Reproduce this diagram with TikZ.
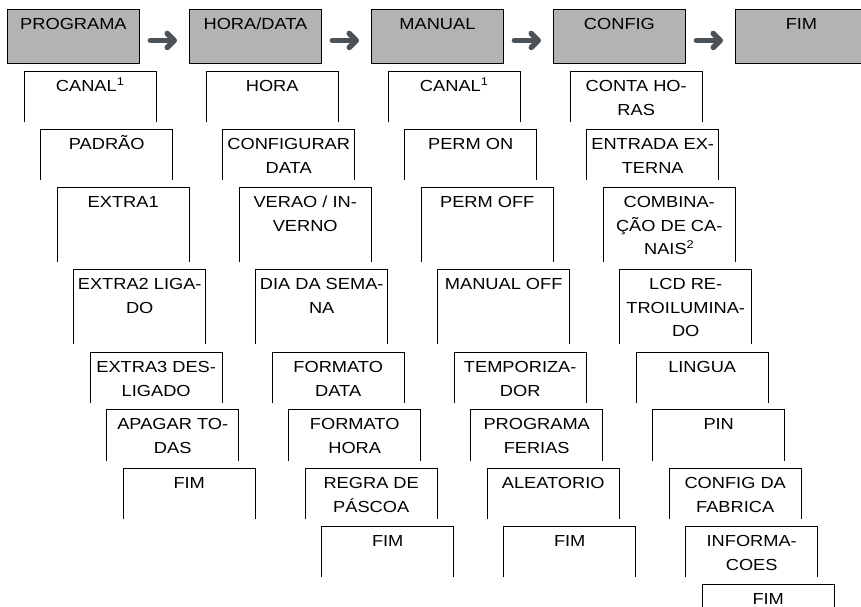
\documentclass[tikz,border=0pt]{standalone}
\usepackage{fontspec}
\newfontfamily\menufont{Liberation Sans}[FakeStretch=1.14]
\usetikzlibrary{positioning,calc,arrows.meta}
\definecolor{menugray}{RGB}{179,179,179}
\definecolor{arrowgray}{RGB}{75,82,88}
\tikzset{
  menubox/.style   = {draw,fill=menugray,line width=0.9pt,minimum width=132pt,minimum height=54pt,anchor=north west,inner sep=0pt},
  itembox/.style   = {minimum width=132pt,anchor=north west,inner sep=0pt},
  openframe/.style = {line width=0.9pt},
  boxtext/.style   = {anchor=north,inner sep=0pt,align=center,font=\menufont\fontsize{16}{23.5}\selectfont},
  nextarrow/.style = {draw=arrowgray,line width=5.5pt,line cap=round,shorten <=10.5pt,shorten >=12pt,
                      -{Straight Barb[length=7pt,width=14pt,round]}}
}
\newcommand{\DrawMenu}[3]{%
  % draws the grey menu box
  \node[menubox] (#1) at #2 {};
  % displays the menu name (top of box)
  \node[boxtext] at ($(#1.north)+(0,4)$) {\rule{0pt}{16.45pt}#3};
}
\newcommand{\DrawItem}[4]{%
  % empty node that only gives the size of the entry
  \node[itembox,minimum height=#3] (#1) at #2 {};
  % draws the box, open at the bottom
  \draw[openframe] (#1.south west)--(#1.north west)--(#1.north east)--(#1.south east);
  % displays the entry text (top of box)
  \node[boxtext] at ($(#1.north)+(0,4)$) {\rule{0pt}{16.45pt}#4};
}

\begin{document}
\begin{tikzpicture}[x=1pt,y=-1pt]
    \useasboundingbox (0,0) rectangle (861,606);
    \clip (0,0) rectangle (861,606);

    \DrawMenu{prog}{(7,9)}{PROGRAMA}
    \DrawMenu{hora}{(189,9)}{HORA/DATA}
    \DrawMenu{manual}{(371,9)}{MANUAL}
    \DrawMenu{config}{(553,9)}{CONFIG}
    \DrawMenu{fim}{(735,9)}{FIM}

    \draw[nextarrow] ([yshift=-4pt]prog.east) -- ([yshift=-4pt]hora.west);
    \draw[nextarrow] ([yshift=-4pt]hora.east) -- ([yshift=-4pt]manual.west);
    \draw[nextarrow] ([yshift=-4pt]manual.east) -- ([yshift=-4pt]config.west);
    \draw[nextarrow] ([yshift=-4pt]config.east) -- ([yshift=-4pt]fim.west);

    % PROGRAMA
    \DrawItem{p1}{(24,71)}{51pt}{CANAL\textsuperscript{1}}
    \DrawItem{p2}{(40.5,129)}{51pt}{PADRÃO}
    \DrawItem{p3}{(57,187)}{75pt}{EXTRA1}
    \DrawItem{p4}{(73.5,269)}{75pt}{EXTRA2 LIGA-\\DO}
    \DrawItem{p5}{(90,352)}{51pt}{EXTRA3 DES-\\LIGADO}
    \DrawItem{p6}{(106.5,409)}{52pt}{APAGAR TO-\\DAS}
    \DrawItem{p7}{(123,468)}{51pt}{FIM}

    % HORA/DATA
    \DrawItem{h1}{(206,71)}{51pt}{HORA}
    \DrawItem{h2}{(222.5,129)}{51pt}{CONFIGURAR\\DATA}
    \DrawItem{h3}{(239,187)}{75pt}{VERAO / IN-\\VERNO}
    \DrawItem{h4}{(255.5,269)}{75pt}{DIA DA SEMA-\\NA}
    \DrawItem{h5}{(272,352)}{51pt}{FORMATO\\DATA}
    \DrawItem{h6}{(288.5,409)}{52pt}{FORMATO\\HORA}
    \DrawItem{h7}{(305,468)}{51pt}{REGRA DE\\PÁSCOA}
    \DrawItem{h8}{(321.5,526)}{51pt}{FIM}

    % MANUAL
    \DrawItem{m1}{(388,71)}{51pt}{CANAL\textsuperscript{1}}
    \DrawItem{m2}{(404.5,129)}{51pt}{PERM ON}
    \DrawItem{m3}{(421,187)}{75pt}{PERM OFF}
    \DrawItem{m4}{(437.5,269)}{75pt}{MANUAL OFF}
    \DrawItem{m5}{(454,352)}{51pt}{TEMPORIZA-\\DOR}
    \DrawItem{m6}{(470.5,409)}{52pt}{PROGRAMA\\FERIAS}
    \DrawItem{m7}{(487,468)}{51pt}{ALEATORIO}
    \DrawItem{m8}{(503.5,526)}{51pt}{FIM}

    % CONFIG
    \DrawItem{c1}{(570,71)}{51pt}{CONTA HO-\\RAS}
    \DrawItem{c2}{(586.5,129)}{51pt}{ENTRADA EX-\\TERNA}
    \DrawItem{c3}{(603,187)}{75pt}{COMBINA-\\ÇÃO DE CA-\\NAIS\textsuperscript{2}}
    \DrawItem{c4}{(619.5,269)}{75pt}{LCD RE-\\TROILUMINA-\\DO}
    \DrawItem{c5}{(636,352)}{51pt}{LINGUA}
    \DrawItem{c6}{(652.5,409)}{52pt}{PIN}
    \DrawItem{c7}{(669,468)}{51pt}{CONFIG DA\\FABRICA}
    \DrawItem{c8}{(685.5,526)}{51pt}{INFORMA-\\COES}
    \DrawItem{c9}{(702,584)}{51pt}{FIM}
  \end{tikzpicture}
\end{document}
